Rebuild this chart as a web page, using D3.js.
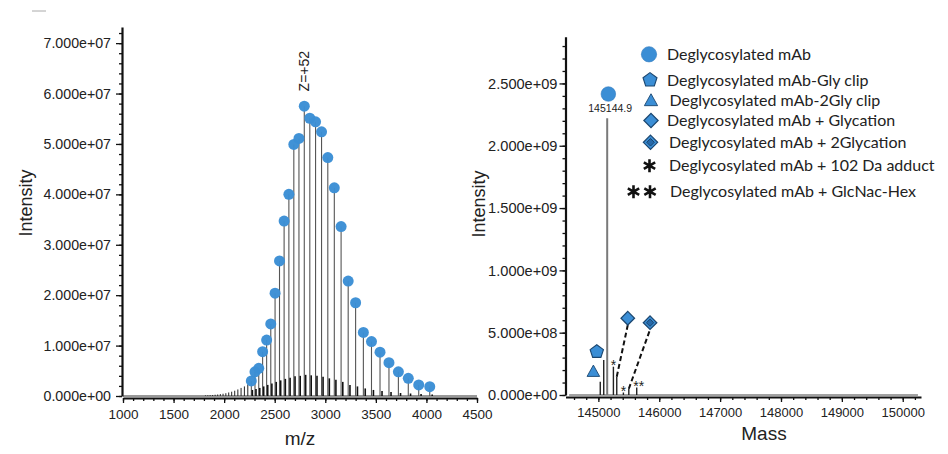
<!DOCTYPE html>
<html>
<head>
<meta charset="utf-8">
<script src="https://cdn.jsdelivr.net/npm/d3@7"></script>
<style>
  html, body { margin: 0; padding: 0; background: #fff; }
  svg { display: block; }
  text { font-family: "Liberation Sans", Arial, sans-serif; fill: #222; }
  .leg { font-family: Lato, "Open Sans", sans-serif; }
</style>
</head>
<body>
<svg id="chart" width="948" height="454"></svg>
<script>
// ---------- Raw m/z spectrum: charge-state envelope ----------
const chargeStates = [64, 63, 62, 61, 60, 59, 58, 57, 56, 55, 54, 53, 52, 51, 50,
                      49, 48, 47, 46, 45, 44, 43, 42, 41, 40, 39, 38, 37, 36];
const envelopeMz = [2268.9, 2304.9, 2342.1, 2380.4, 2420.1, 2461.1, 2503.5, 2547.4,
                    2592.9, 2640.0, 2688.9, 2739.6, 2792.3, 2847.0, 2903.9, 2963.1,
                    3024.9, 3089.2, 3156.3, 3226.4, 3299.8, 3376.5, 3456.8, 3541.1,
                    3629.6, 3722.7, 3820.6, 3923.8, 4032.8];
const envelopeIntensity = [3.0e6, 4.8e6, 5.5e6, 8.8e6, 11.1e6, 14.3e6, 20.4e6, 26.8e6,
                           34.7e6, 40.0e6, 49.9e6, 51.1e6, 57.5e6, 55.1e6, 54.4e6, 52.4e6,
                           47.3e6, 41.3e6, 33.6e6, 22.8e6, 18.5e6, 12.6e6, 10.8e6, 8.7e6,
                           6.6e6, 4.8e6, 3.5e6, 2.2e6, 1.85e6];
// adduct / variant clusters sitting at the foot of each charge state
const shoulderMz = [2279, 2315, 2352, 2391, 2431, 2472, 2515, 2559, 2605, 2652, 2701,
                    2752, 2806, 2861, 2918, 2978, 3040, 3105, 3173, 3244, 3318, 3395,
                    3476, 3561, 3650, 3744, 3843, 3947, 4057];
const shoulderIntensity = [1.2e6, 1.4e6, 1.6e6, 1.9e6, 2.2e6, 2.5e6, 2.8e6, 3.1e6, 3.4e6,
                           3.6e6, 3.9e6, 4.0e6, 4.2e6, 4.1e6, 4.0e6, 3.8e6, 3.5e6, 3.2e6,
                           2.8e6, 2.2e6, 1.9e6, 1.5e6, 1.2e6, 1.0e6, 0.8e6, 0.6e6, 0.5e6,
                           0.4e6, 0.3e6];
// weak high-charge states on the low-m/z side
const tailMz = [2234.0, 2200.2, 2167.3, 2135.5, 2104.5, 2074.5, 2045.3, 2016.9,
                1989.3, 1962.4, 1936.3, 1910.8, 1886.0, 1861.8, 1838.3, 1815.3];
const tailIntensity = [2.3e6, 1.9e6, 1.6e6, 1.3e6, 1.05e6, 0.85e6, 0.7e6, 0.55e6,
                       0.45e6, 0.38e6, 0.3e6, 0.25e6, 0.2e6, 0.17e6, 0.14e6, 0.12e6];
const mzTicks = [1000, 1500, 2000, 2500, 3000, 3500, 4000, 4500];
const leftIntensityTicks = [0, 1e7, 2e7, 3e7, 4e7, 5e7, 6e7, 7e7];
const apexCharge = 52;

// ---------- Deconvoluted mass spectrum ----------
const massPeaks = [145031, 145088, 145144.9, 145247, 145302, 145411, 145500, 145630];
const massIntensity = [1.07e8, 2.8e8, 2.22e9, 2.27e8, 1.47e8, 2.0e7, 5.0e7, 6.0e7];
const massPeakTags = ["", "", "", "*", "", "*", "", "**"];
const massTicks = [145000, 146000, 147000, 148000, 149000, 150000];
const rightIntensityTicks = [0, 5e8, 1e9, 1.5e9, 2e9, 2.5e9];
const mainPeakLabel = "145144.9";

// species markers placed next to their peaks
const markerType = ["circle", "pentagon", "triangle", "diamond", "diamond2"];
const markerMass = [145164, 144974, 144918, 145483, 145849];
const markerIntensity = [2.415e9, 3.47e8, 1.87e8, 6.16e8, 5.8e8];
const markerLinkPeak = [null, null, null, 4, 6];   // dashed leader to peak index

const legendLabels = [
  "Deglycosylated mAb",
  "Deglycosylated mAb-Gly clip",
  "Deglycosylated mAb-2Gly clip",
  "Deglycosylated mAb + Glycation",
  "Deglycosylated mAb + 2Glycation",
  "Deglycosylated mAb + 102 Da adduct",
  "Deglycosylated mAb + GlcNac-Hex"
];
const legendSymbols = ["circle", "pentagon", "triangle", "diamond", "diamond2", "asterisk", "asterisk2"];

// ---------- styling ----------
const BLUE = "#3b8ed5";
const NAVY = "#1b466f";
const DARKBLUE = "#2668a8";

const svg = d3.select("#chart");
svg.append("rect").attr("width", 948).attr("height", 454).attr("fill", "#fff");

// little rule in the top-left corner
svg.append("line").attr("x1", 32).attr("x2", 46).attr("y1", 11).attr("y2", 11)
  .attr("stroke", "#aaa").attr("stroke-width", 1);

// symbol painters
function pentagonPath(r) {
  const p = d3.path();
  for (let k = 0; k < 5; k++) {
    const a = -Math.PI / 2 + k * 2 * Math.PI / 5;
    const x = r * Math.cos(a), y = r * Math.sin(a);
    if (k === 0) p.moveTo(x, y); else p.lineTo(x, y);
  }
  p.closePath();
  return p.toString();
}
function diamondPath(h) {
  return `M0,${-h}L${h},0L0,${h}L${-h},0Z`;
}
function trianglePath(s) {
  return `M0,${-s * 1.05}L${s},${s * 0.75}L${-s},${s * 0.75}Z`;
}
function drawSymbol(g, type, cx, cy, scale) {
  const s = scale || 1;
  const grp = g.append("g").attr("transform", `translate(${cx},${cy})`);
  if (type === "circle") {
    grp.append("circle").attr("r", 7.3 * s).attr("fill", BLUE).attr("stroke", "#2f7bc0").attr("stroke-width", 0.6);
  } else if (type === "pentagon") {
    grp.append("path").attr("d", pentagonPath(7 * s)).attr("fill", BLUE).attr("stroke", NAVY).attr("stroke-width", 1.1);
  } else if (type === "triangle") {
    grp.append("path").attr("d", trianglePath(6.3 * s)).attr("fill", BLUE).attr("stroke", NAVY).attr("stroke-width", 0.9);
  } else if (type === "diamond") {
    grp.append("path").attr("d", diamondPath(6.8 * s)).attr("fill", BLUE).attr("stroke", NAVY).attr("stroke-width", 1.2);
  } else if (type === "diamond2") {
    grp.append("path").attr("d", diamondPath(6.8 * s)).attr("fill", BLUE).attr("stroke", NAVY).attr("stroke-width", 1.2);
    grp.append("path").attr("d", diamondPath(3.6 * s)).attr("fill", DARKBLUE).attr("stroke", NAVY).attr("stroke-width", 1);
  } else if (type === "asterisk" || type === "asterisk2") {
    const star = d3.symbol().type(d3.symbolAsterisk).size(115 * s);
    const offs = type === "asterisk2" ? [-16.5, 0] : [0];
    offs.forEach(o => grp.append("path").attr("d", star()).attr("transform", `translate(${o},0)`)
      .attr("fill", "none").attr("stroke", "#111").attr("stroke-width", 2.6));
  }
  return grp;
}

function styleAxis(g, width) {
  g.selectAll(".domain").attr("stroke", "#111").attr("stroke-width", width);
  g.selectAll(".tick line").attr("stroke", "#111").attr("stroke-width", 1.3);
}
const sciFormat = d => d3.format(".3e")(d).replace("e+", "e+0");

// =================== LEFT PANEL: m/z ===================
const xL = d3.scaleLinear().domain([1000, 4500]).range([123, 477]);
const yL = d3.scaleLinear().domain([0, 7.32e7]).range([396, 27]);
const left = svg.append("g");

// minor ticks
left.append("g").attr("transform", "translate(122,0)")
  .call(d3.axisLeft(yL).tickValues(d3.range(0, 7.3e7, 2e6)).tickSize(3).tickSizeOuter(0).tickFormat(""))
  .call(g => styleAxis(g, 2.2));
left.append("g").attr("transform", "translate(122,0)")
  .call(d3.axisLeft(yL).tickValues(leftIntensityTicks).tickSize(6).tickPadding(5).tickFormat(sciFormat))
  .call(g => { g.select(".domain").remove(); styleAxis(g, 2); g.selectAll("text").attr("font-size", 14.2); });

left.append("g").attr("transform", "translate(0,398)")
  .call(d3.axisBottom(xL).tickValues(d3.range(1000, 4501, 100)).tickSize(3).tickSizeOuter(0).tickFormat(""))
  .call(g => styleAxis(g, 2.2));
left.append("g").attr("transform", "translate(0,398)")
  .call(d3.axisBottom(xL).tickValues(mzTicks).tickSize(5).tickPadding(6).tickFormat(d3.format("d")))
  .call(g => { g.select(".domain").remove(); styleAxis(g, 2); g.selectAll("text").attr("font-size", 13.5); });

// spectrum baseline
left.append("line").attr("x1", xL(1000)).attr("x2", xL(4500)).attr("y1", yL(0)).attr("y2", yL(0))
  .attr("stroke", "#333").attr("stroke-width", 1);

// sticks
const stick = (g, xs, ys, xScale, yScale, color, w) =>
  g.selectAll(null).data(xs.map((x, i) => [x, ys[i]])).join("line")
    .attr("x1", d => xScale(d[0])).attr("x2", d => xScale(d[0]))
    .attr("y1", yScale(0)).attr("y2", d => yScale(d[1]))
    .attr("stroke", color).attr("stroke-width", w);

stick(left.append("g"), tailMz, tailIntensity, xL, yL, "#222", 1);
stick(left.append("g"), envelopeMz, envelopeIntensity, xL, yL, "#555", 1.1);
stick(left.append("g"), shoulderMz, shoulderIntensity, xL, yL, "#111", 1.6);

left.append("g").selectAll("circle")
  .data(envelopeMz.map((x, i) => [x, envelopeIntensity[i]]))
  .join("circle")
  .attr("cx", d => xL(d[0])).attr("cy", d => yL(d[1])).attr("r", 5.5)
  .attr("fill", BLUE).attr("fill-opacity", 0.97);

// apex charge-state label
const apexIdx = chargeStates.indexOf(apexCharge);
left.append("text")
  .attr("transform", `translate(${xL(envelopeMz[apexIdx]) + 5},${yL(envelopeIntensity[apexIdx]) - 35}) rotate(-90)`)
  .attr("text-anchor", "middle").attr("font-size", 14)
  .text("Z=+" + apexCharge);

left.append("text").attr("x", xL(2750)).attr("y", 445).attr("text-anchor", "middle")
  .attr("font-size", 19).text("m/z");
left.append("text").attr("transform", "translate(32,203) rotate(-90)")
  .attr("text-anchor", "middle").attr("font-size", 18).text("Intensity");

// =================== RIGHT PANEL: deconvoluted mass ===================
const xR = d3.scaleLinear().domain([144460, 150300]).range([565.5, 921]);
const yR = d3.scaleLinear().domain([0, 2.875e9]).range([395, 36.7]);
const right = svg.append("g");

right.append("g").attr("transform", "translate(565.5,0)")
  .call(d3.axisLeft(yR).tickValues(d3.range(0, 2.87e9, 1e8)).tickSize(3).tickSizeOuter(0).tickFormat(""))
  .call(g => styleAxis(g, 2.2));
right.append("g").attr("transform", "translate(565.5,0)")
  .call(d3.axisLeft(yR).tickValues(rightIntensityTicks).tickSize(6).tickPadding(2).tickFormat(sciFormat))
  .call(g => { g.select(".domain").remove(); styleAxis(g, 2); g.selectAll("text").attr("font-size", 14.6); });

right.append("g").attr("transform", "translate(0,397)")
  .call(d3.axisBottom(xR).tickValues(d3.range(144600, 150300, 200)).tickSize(3).tickSizeOuter(0).tickFormat(""))
  .call(g => styleAxis(g, 2.2));
right.append("g").attr("transform", "translate(0,397)")
  .call(d3.axisBottom(xR).tickValues(massTicks).tickSize(5).tickPadding(6).tickFormat(d3.format("d")))
  .call(g => { g.select(".domain").remove(); styleAxis(g, 2); g.selectAll("text").attr("font-size", 13); });

right.append("line").attr("x1", xR(144520)).attr("x2", xR(150250)).attr("y1", yR(0)).attr("y2", yR(0))
  .attr("stroke", "#444").attr("stroke-width", 1);

// peaks: the main species drawn as a heavier grey line
right.append("g").selectAll("line")
  .data(massPeaks.map((m, i) => ({ m, v: massIntensity[i], main: i === 2 })))
  .join("line")
  .attr("x1", d => xR(d.m)).attr("x2", d => xR(d.m))
  .attr("y1", yR(0)).attr("y2", d => yR(d.v))
  .attr("stroke", d => d.main ? "#7a7a7a" : "#222")
  .attr("stroke-width", d => d.main ? 2 : 1.4);

// value label of the main peak
right.append("text").attr("x", xR(massPeaks[2]) + 3).attr("y", yR(massIntensity[2]) - 6)
  .attr("text-anchor", "middle").attr("font-size", 10.5).attr("fill", "#333").text(mainPeakLabel);

// asterisk tags above adduct peaks
right.append("g").selectAll("text")
  .data(massPeaks.map((m, i) => ({ m, v: massIntensity[i], t: massPeakTags[i] })).filter(d => d.t))
  .join("text")
  .attr("x", d => xR(d.m) + (d.t.length > 1 ? 2 : 0)).attr("y", d => yR(d.v) + 3)
  .attr("text-anchor", "middle").attr("font-size", 14).attr("fill", "#222").text(d => d.t);

// dashed leaders from glycation peaks to their markers
markerType.forEach((t, i) => {
  const p = markerLinkPeak[i];
  if (p === null) return;
  right.append("line")
    .attr("x1", xR(massPeaks[p])).attr("y1", yR(massIntensity[p]))
    .attr("x2", xR(markerMass[i])).attr("y2", yR(markerIntensity[i]) + 6.8)
    .attr("stroke", "#111").attr("stroke-width", 2).attr("stroke-dasharray", "5,3");
});
markerType.forEach((t, i) => drawSymbol(right, t, xR(markerMass[i]), yR(markerIntensity[i]), 1));

right.append("text").attr("x", 764).attr("y", 440).attr("text-anchor", "middle")
  .attr("font-size", 19).text("Mass");
right.append("text").attr("transform", "translate(485,204) rotate(-90)")
  .attr("text-anchor", "middle").attr("font-size", 18).text("Intensity");

// legend
const legY = [54.3, 80, 100.7, 120.5, 142.3, 165.7, 191.7];
const legSymX = [649, 650, 651, 651, 650.5, 649.5, 650];
const legTextX = [667, 667, 669.5, 667, 669, 669, 670];
const legend = svg.append("g");
legendLabels.forEach((lab, i) => {
  drawSymbol(legend, legendSymbols[i], legSymX[i], legY[i], 1.05);
  legend.append("text").attr("class", "leg").attr("x", legTextX[i]).attr("y", legY[i])
    .attr("dy", "0.36em").attr("font-size", 16).text(lab);
});
</script>
</body>
</html>
